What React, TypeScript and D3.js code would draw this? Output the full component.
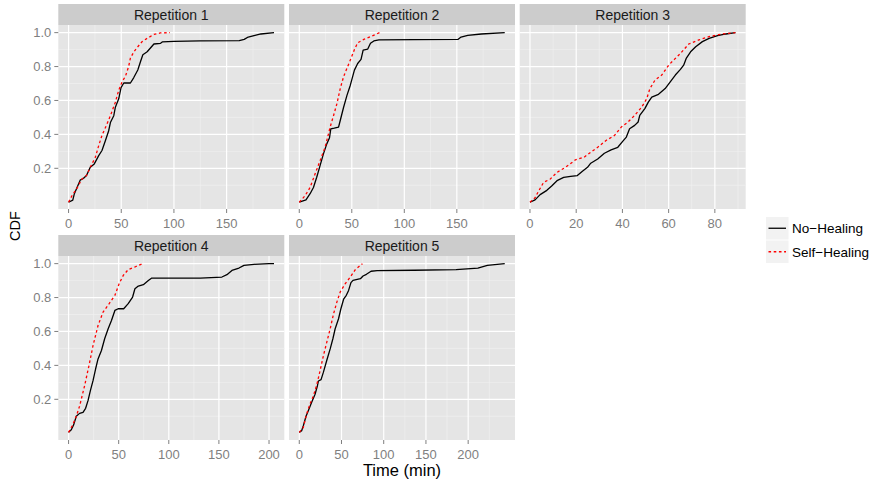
import React from "react";
import * as d3 from "d3";

type Pt = [number, number];

const repetitions = ["Repetition 1", "Repetition 2", "Repetition 3", "Repetition 4", "Repetition 5"];
const seriesNames = ["No−Healing", "Self−Healing"];

const rep1NoHealing: Pt[] = [[0,0],[4,0.012],[5.4,0.048],[11,0.13],[14,0.14],[17,0.157],[20.6,0.206],[24.4,0.226],[28.6,0.275],[31.7,0.305],[35,0.364],[38,0.42],[39.7,0.47],[42.9,0.51],[44.4,0.56],[47.6,0.61],[49.8,0.676],[52.4,0.703],[58.7,0.703],[61.9,0.735],[65.7,0.78],[68.3,0.83],[70.5,0.87],[74.6,0.887],[81,0.933],[87.3,0.937],[88.9,0.945],[100,0.949],[125,0.951],[162,0.953],[166.7,0.96],[170.5,0.974],[176,0.982],[182.5,0.992],[195,1.0]];
const rep1SelfHealing: Pt[] = [[0,0],[3.2,0.038],[8,0.083],[12.7,0.137],[17,0.157],[20.6,0.206],[25.4,0.265],[28.6,0.334],[31.7,0.394],[35.9,0.453],[39.7,0.51],[44.4,0.59],[47.6,0.66],[50.8,0.71],[54,0.743],[57,0.8],[58.7,0.85],[62,0.887],[65.7,0.917],[69.8,0.947],[74.6,0.966],[81,0.99],[87,0.998],[96.2,1.0]];

const rep2NoHealing: Pt[] = [[0,0],[6.4,0.014],[10.3,0.05],[13.5,0.087],[16.6,0.147],[19.8,0.216],[23,0.285],[26.2,0.344],[28.8,0.38],[30,0.433],[33.3,0.437],[37.4,0.443],[39,0.482],[42.2,0.56],[45.4,0.63],[48.6,0.69],[51.2,0.749],[52.5,0.779],[55.6,0.818],[58.8,0.842],[60.8,0.897],[65.2,0.903],[67.8,0.937],[71,0.951],[75.8,0.957],[109,0.959],[151,0.96],[154,0.974],[160.4,0.984],[173.3,0.992],[195.6,1.0]];
const rep2SelfHealing: Pt[] = [[0,0],[5.5,0.038],[10.3,0.087],[15,0.166],[19.8,0.245],[24.6,0.324],[29.4,0.443],[32.6,0.51],[35.8,0.58],[39,0.67],[42.2,0.74],[45.4,0.79],[48.6,0.838],[52.5,0.9],[55.6,0.94],[61.4,0.96],[67.8,0.976],[76.4,1.0]];

const rep3NoHealing: Pt[] = [[0,0],[2.2,0.014],[4.4,0.045],[7.3,0.07],[9.5,0.097],[11.7,0.127],[14.6,0.146],[17.6,0.152],[20.5,0.157],[22.7,0.183],[24.9,0.206],[26.3,0.23],[29.3,0.255],[32.2,0.289],[35.1,0.309],[38,0.324],[40.2,0.36],[41.7,0.384],[43.1,0.433],[45.3,0.453],[46.8,0.473],[47.5,0.512],[49.7,0.552],[51.2,0.59],[52.7,0.62],[55.6,0.636],[58.5,0.67],[60.7,0.71],[62.9,0.75],[65.1,0.783],[66.5,0.808],[67.6,0.848],[69.5,0.887],[71.7,0.917],[74.6,0.947],[77.5,0.966],[81.2,0.982],[84.8,0.992],[88.9,1.0]];
const rep3SelfHealing: Pt[] = [[0,0],[2.2,0.026],[3.7,0.065],[5.9,0.117],[8.8,0.137],[11.7,0.176],[15.4,0.206],[19.7,0.25],[23.4,0.265],[26.3,0.295],[29.3,0.324],[32.9,0.364],[36.6,0.394],[39.5,0.443],[42.4,0.473],[45.3,0.512],[48.3,0.56],[50.5,0.61],[51.9,0.67],[54.1,0.72],[57,0.75],[60,0.808],[62.9,0.848],[65.1,0.877],[68.7,0.933],[73.1,0.957],[77.5,0.976],[83.4,0.992],[88.9,1.0]];

const rep4NoHealing: Pt[] = [[0,0.005],[2.7,0.02],[5,0.048],[7.7,0.1],[11,0.117],[14.4,0.123],[17,0.147],[19.4,0.192],[21.7,0.25],[24.4,0.31],[27,0.38],[29.4,0.438],[32.8,0.488],[36,0.557],[39.5,0.616],[42.8,0.665],[46.2,0.724],[49.5,0.734],[55,0.734],[59.5,0.764],[63.9,0.803],[66.2,0.852],[69.6,0.868],[74.6,0.876],[79.6,0.901],[83,0.915],[104.7,0.915],[131.4,0.915],[153,0.921],[158,0.935],[163,0.96],[170,0.974],[175,0.99],[185,0.996],[200,1.0],[205,1.0]];
const rep4SelfHealing: Pt[] = [[0,0.005],[3.7,0.044],[7.7,0.1],[11,0.16],[16,0.28],[20.4,0.4],[24.4,0.517],[29.4,0.635],[34.4,0.714],[40.5,0.764],[46.2,0.813],[50.5,0.882],[54.5,0.93],[59.5,0.965],[66.2,0.98],[74,1.0]];

const rep5NoHealing: Pt[] = [[0,0.005],[2.8,0.015],[4.8,0.044],[8,0.1],[10.7,0.133],[14.7,0.182],[18.7,0.23],[21.5,0.28],[22.7,0.308],[25.8,0.316],[28.6,0.36],[32.6,0.43],[36.6,0.497],[39.8,0.557],[42.5,0.616],[46.5,0.675],[49.3,0.734],[52.5,0.79],[55.7,0.813],[58.4,0.842],[61.2,0.888],[63.6,0.901],[72.4,0.911],[75.5,0.927],[79.5,0.937],[85,0.955],[92.2,0.959],[136,0.961],[185.7,0.965],[211.5,0.974],[222.7,0.99],[243.3,1.0]];
const rep5SelfHealing: Pt[] = [[0,0.005],[4.8,0.035],[8.7,0.113],[12.7,0.172],[16.7,0.22],[20.7,0.285],[24.7,0.37],[28.6,0.458],[32.6,0.537],[36.6,0.616],[40.6,0.704],[44.5,0.773],[48.5,0.833],[54.5,0.882],[60.4,0.921],[66.4,0.965],[74.8,1.0]];

const noHealingSeries = [rep1NoHealing, rep2NoHealing, rep3NoHealing, rep4NoHealing, rep5NoHealing];
const selfHealingSeries = [rep1SelfHealing, rep2SelfHealing, rep3SelfHealing, rep4SelfHealing, rep5SelfHealing];

const xTicks = [
  [0, 50, 100, 150],
  [0, 50, 100, 150],
  [0, 20, 40, 60, 80],
  [0, 50, 100, 150, 200],
  [0, 50, 100, 150, 200],
];
const yTicks = [0.2, 0.4, 0.6, 0.8, 1.0];
const yTickLabels = ["0.2", "0.4", "0.6", "0.8", "1.0"];
const yMinor = [0.1, 0.3, 0.5, 0.7, 0.9];

const W = 874, H = 486;
const FONT = "'Liberation Sans', Arial, Helvetica, sans-serif";
const LEFT = 58.3, PW = 226, GAPX = 4.7, TOP = 4, STRIP = 21, PH = 184, ROWSTEP = 231;
const PANEL_BG = "#E5E5E5", STRIP_BG = "#CCCCCC", MINOR = "#F2F2F2", GREY = "#7F7F7F";
const colors = ["#000000", "#FF0000"];
const dashes = [undefined, "2.6,2.6"];

function Panel({ idx }: { idx: number }) {
  const col = idx % 3, row = Math.floor(idx / 3);
  const x0 = LEFT + col * (PW + GAPX);
  const stripTop = TOP + row * ROWSTEP;
  const pTop = stripTop + STRIP;
  const series = [noHealingSeries[idx], selfHealingSeries[idx]];
  const maxT = d3.max(series.flat(), (d) => d[0]) as number;
  const x = d3.scaleLinear().domain([-0.05 * maxT, maxT * 1.05]).range([x0, x0 + PW]);
  const y = d3.scaleLinear().domain([-0.04, 1.045]).range([pTop + PH, pTop]);
  const ticks = xTicks[idx];
  const step = ticks[1] - ticks[0];
  const xMinor: number[] = [];
  for (let k = 0; k < ticks.length; k++) {
    const m = ticks[k] + step / 2;
    if (m <= x.domain()[1]) xMinor.push(m);
  }
  const line = d3.line<Pt>().x((d) => x(d[0])).y((d) => y(d[1]));
  return (
    <g>
      <rect x={x0} y={pTop} width={PW} height={PH} fill={PANEL_BG} />
      {yMinor.map((v) => (
        <line key={"ym" + v} x1={x0} x2={x0 + PW} y1={y(v)} y2={y(v)} stroke={MINOR} strokeWidth={0.6} />
      ))}
      {xMinor.map((v) => (
        <line key={"xm" + v} x1={x(v)} x2={x(v)} y1={pTop} y2={pTop + PH} stroke={MINOR} strokeWidth={0.6} />
      ))}
      {yTicks.map((v) => (
        <line key={"yM" + v} x1={x0} x2={x0 + PW} y1={y(v)} y2={y(v)} stroke="#FFFFFF" strokeWidth={1.2} />
      ))}
      {ticks.map((v) => (
        <line key={"xM" + v} x1={x(v)} x2={x(v)} y1={pTop} y2={pTop + PH} stroke="#FFFFFF" strokeWidth={1.2} />
      ))}
      {series.map((s, si) => (
        <path key={"s" + si} d={line(s) || ""} fill="none" stroke={colors[si]} strokeWidth={1.3}
          strokeDasharray={dashes[si]} strokeLinejoin="round" />
      ))}
      <rect x={x0} y={stripTop} width={PW} height={STRIP} fill={STRIP_BG} />
      <text x={x0 + PW / 2} y={stripTop + STRIP / 2 + 5} textAnchor="middle" fontFamily={FONT} fontSize={14} fill="#1A1A1A">
        {repetitions[idx]}
      </text>
      {ticks.map((v) => (
        <g key={"xt" + v}>
          <line x1={x(v)} x2={x(v)} y1={pTop + PH} y2={pTop + PH + 4} stroke={GREY} strokeWidth={1} />
          <text x={x(v)} y={pTop + PH + 19} textAnchor="middle" fontFamily={FONT} fontSize={13} fill={GREY}>
            {v}
          </text>
        </g>
      ))}
      {col === 0 &&
        yTicks.map((v, k) => (
          <g key={"yt" + v}>
            <line x1={x0 - 4} x2={x0} y1={y(v)} y2={y(v)} stroke={GREY} strokeWidth={1} />
            <text x={x0 - 7} y={y(v) + 4.6} textAnchor="end" fontFamily={FONT} fontSize={13} fill={GREY}>
              {yTickLabels[k]}
            </text>
          </g>
        ))}
    </g>
  );
}

export default function App() {
  const legX = 766, legY = 217, key = 22.5, keyStep = 23.5;
  return (
    <svg width={W} height={H} style={{ position: "absolute", left: 0, top: 0, background: "#FFFFFF" }}>
      <rect x={0} y={0} width={W} height={H} fill="#FFFFFF" />
      {repetitions.map((_, i) => (
        <Panel key={i} idx={i} />
      ))}
      <text x={LEFT + (3 * PW + 2 * GAPX) / 2} y={475.5} textAnchor="middle" fontFamily={FONT} fontSize={16.5} fill="#000">
        Time (min)
      </text>
      <text transform={`translate(20,226) rotate(-90)`} textAnchor="middle" fontFamily={FONT} fontSize={14.5} fill="#000">
        CDF
      </text>
      {seriesNames.map((name, i) => {
        const ky = legY + i * keyStep;
        return (
          <g key={name}>
            <rect x={legX} y={ky} width={key} height={key} fill={MINOR} />
            <line x1={legX + 2.5} x2={legX + key - 2.5} y1={ky + key / 2} y2={ky + key / 2} stroke={colors[i]}
              strokeWidth={1.3} strokeDasharray={dashes[i]} />
            <text x={legX + key + 3.5} y={ky + key / 2 + 4.8} fontFamily={FONT} fontSize={13.5} fill="#000">
              {name}
            </text>
          </g>
        );
      })}
    </svg>
  );
}
